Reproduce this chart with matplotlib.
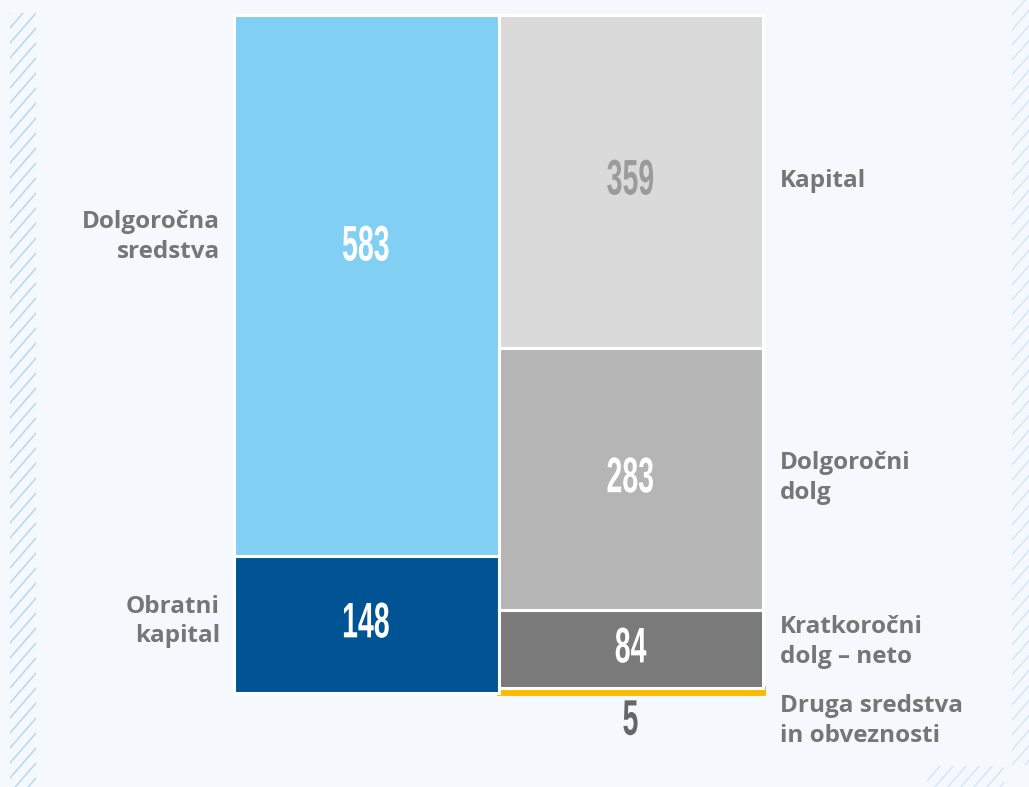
import matplotlib
matplotlib.use("Agg")
import matplotlib.pyplot as plt
from matplotlib.lines import Line2D
from matplotlib.patches import Rectangle
from matplotlib.patheffects import AbstractPathEffect
from matplotlib.transforms import Affine2D
import numpy as np

# ---- data ----
left_labels = ["Obratni\nkapital", "Dolgoročna\nsredstva"]
left_values = [148, 583]
left_colors = ["#005494", "#82cff4"]
left_text_colors = ["#ffffff", "#ffffff"]

right_labels = ["Druga sredstva\nin obveznosti", "Kratkoročni\ndolg – neto", "Dolgoročni\ndolg", "Kapital"]
right_values = [5, 84, 283, 359]
right_colors = ["#fbba00", "#7a7a7a", "#b5b5b5", "#dadada"]
right_text_colors = ["#666666", "#ffffff", "#ffffff", "#9b9b9b"]

BG = "#f5f9fe"
W, H = 1029, 787
fig = plt.figure(figsize=(W / 100, H / 100), dpi=100, facecolor=BG)


class Condense(AbstractPathEffect):
    """Draw text horizontally condensed about its own centre."""
    def __init__(self, sx=0.6, sy=1.0):
        super().__init__()
        self.sx, self.sy = sx, sy

    def draw_path(self, renderer, gc, tpath, affine, rgbFace=None):
        v = tpath.vertices
        if len(v):
            cx = (v[:, 0].min() + v[:, 0].max()) / 2
            cy = (v[:, 1].min() + v[:, 1].max()) / 2
        else:
            cx = cy = 0
        t = Affine2D().translate(-cx, -cy).scale(self.sx, self.sy).translate(cx, cy) + affine
        renderer.draw_path(gc, tpath, t, rgbFace)


# decorative hatch strips (figure pixel coords, y from top)
def hatch_strip(x0, y0, x1, y1, color, step=15, slope=1.15):
    rect = Rectangle((x0 / W, 1 - y1 / H), (x1 - x0) / W, (y1 - y0) / H,
                     transform=fig.transFigure, facecolor="none", edgecolor="none")
    fig.add_artist(rect)
    w = x1 - x0
    for c in np.arange(y0 - w * slope - step, y1 + step, step):
        ln = Line2D([x0 / W, x1 / W], [1 - (c + w * slope) / H, 1 - c / H],
                    transform=fig.transFigure, color=color, lw=1.0)
        ln.set_clip_path(rect)
        fig.add_artist(ln)

hatch_strip(10, 13, 36, 787, "#aed5f5")
hatch_strip(1012, 0, 1029, 765, "#d0e5f8")
hatch_strip(927, 766, 1004, 787, "#d0e5f8")

ax = fig.add_axes([234 / W, (H - 693) / H, (763 - 234) / W, (693 - 15) / H])
ax.set_facecolor("none")
ax.set_xlim(0, 2)
ax.set_ylim(0, sum(left_values))
ax.axis("off")

num_font = dict(family=["Liberation Sans", "DejaVu Sans"], fontweight="bold",
                fontsize=36, path_effects=[Condense(0.57, 1.0)])
lab_font = dict(family=["Open Sans", "DejaVu Sans"], fontweight="bold",
                fontsize=17.5, color="#767676", linespacing=1.32)

# left stack
bottom = 0
num_pos_left = [0.5, 0.57]
lab_off_left = [3, 52]
for val, col, tc, lab, npf, lo in zip(left_values, left_colors, left_text_colors,
                                        left_labels, num_pos_left, lab_off_left):
    ax.bar(0.5, val, width=1, bottom=bottom, color=col, edgecolor="white", linewidth=2.2,
           zorder=2, clip_on=False)
    ax.text(0.5, bottom + val * npf, str(val), ha="center", va="center", color=tc, zorder=5, **num_font)
    ax.text(-0.053, bottom + val / 2 + lo, lab, ha="right", va="center", clip_on=False, **lab_font)
    bottom += val

# right stack
bottom = 0
lab_off_right = [0, 8, 1, 0]
for val, col, tc, lab, lo in zip(right_values, right_colors, right_text_colors,
                                   right_labels, lab_off_right):
    if val < 20:
        ax.bar(1.5, val, width=1, bottom=bottom, color=col, edgecolor=col, linewidth=3.5,
               zorder=1, clip_on=False)
        ax.text(1.5, bottom - 31, str(val), ha="center", va="center", color=tc, clip_on=False, zorder=5, **num_font)
        ax.text(2.064, bottom - 30, lab, ha="left", va="center", clip_on=False, **lab_font)
    else:
        ax.bar(1.5, val, width=1, bottom=bottom, color=col, edgecolor="white", linewidth=2.2,
               zorder=2, clip_on=False)
        ax.text(1.5, bottom + val / 2, str(val), ha="center", va="center", color=tc, zorder=5, **num_font)
        ax.text(2.064, bottom + val / 2 + lo, lab, ha="left", va="center", clip_on=False, **lab_font)
    bottom += val

fig.savefig("out.png", dpi=100, facecolor=BG)
